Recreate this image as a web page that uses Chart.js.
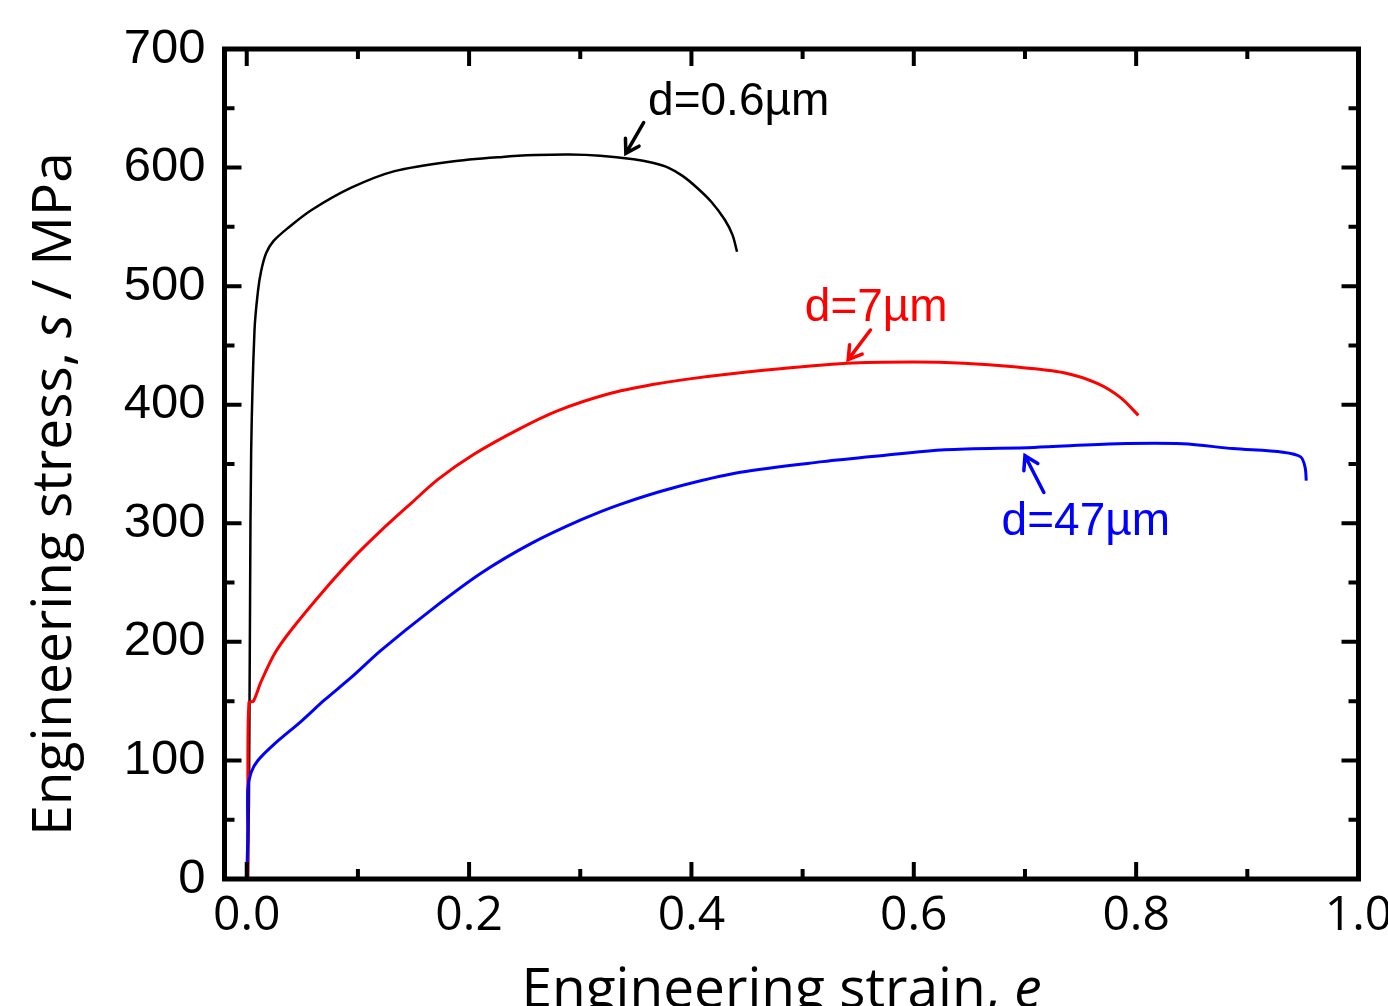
<!DOCTYPE html>
<html>
<head>
<meta charset="utf-8">
<script src="https://cdn.jsdelivr.net/npm/chart.js@4.4.1/dist/chart.umd.min.js"></script>
<style>
  body { margin: 0; background: #fff; }
  #wrap { width: 1388px; height: 1006px; }
</style>
</head>
<body>
<div id="wrap"><canvas id="myChart" width="1388" height="1006"></canvas></div>
<script>
// tick labels
var xTicks = [0.0, 0.2, 0.4, 0.6, 0.8, 1.0];
var yTicks = [0, 100, 200, 300, 400, 500, 600, 700];

// d=0.6um (black)
var strain06 = [0.001, 0.002, 0.003, 0.004, 0.007, 0.010, 0.013, 0.0175, 0.024, 0.037, 0.058, 0.094, 0.133, 0.183, 0.230, 0.260, 0.290, 0.318, 0.348, 0.365, 0.379, 0.392, 0.405, 0.418, 0.430, 0.437, 0.441];
var stress06 = [0, 67, 236, 362, 463, 495, 513, 528, 538, 549, 564, 583, 597, 605, 609, 610.5, 611, 610, 607, 604, 600, 593, 583, 571, 556, 543, 529];

// d=7um (red)
var strain7 = [0.001, 0.001, 0.002, 0.006, 0.0127, 0.025, 0.040, 0.070, 0.095, 0.121, 0.148, 0.172, 0.204, 0.244, 0.280, 0.325, 0.365, 0.400, 0.465, 0.540, 0.600, 0.645, 0.690, 0.735, 0.765, 0.786, 0.802];
var stress7 = [0, 75, 149, 150, 166, 190, 210, 244, 270, 294, 317, 337, 358, 379, 395, 409, 417, 422, 429, 435, 436, 435, 432, 427, 418, 406, 391];

// d=47um (blue)
var strain47 = [0.000, 0.001, 0.001, 0.004, 0.010, 0.025, 0.049, 0.070, 0.094, 0.121, 0.166, 0.211, 0.256, 0.301, 0.336, 0.384, 0.444, 0.518, 0.570, 0.628, 0.708, 0.783, 0.842, 0.887, 0.932, 0.948, 0.952, 0.953];
var stress47 = [0, 40, 76, 90, 100, 114, 133, 151, 170, 193, 227, 258, 283, 303, 316, 330, 343, 352, 357, 362, 364, 367, 367, 363, 360, 356, 347, 336];

function toPoints(xs, ys) {
    var pts = [];
    for (var i = 0; i < xs.length; i++) {
        pts.push({ x: xs[i], y: ys[i] });
    }
    return pts;
}

// labels with arrows, in data units
var notes = [
    { text: "d=0.6\u00b5m", color: "#000000", tx: 0.361, ty: 644, ax: 0.357, ay: 638, bx: 0.341, by: 612 },
    { text: "d=7\u00b5m", color: "#ff0000", tx: 0.502, ty: 471, ax: 0.561, ay: 463, bx: 0.541, by: 438 },
    { text: "d=47\u00b5m", color: "#0000ff", tx: 0.679, ty: 290, ax: 0.717, ay: 326, bx: 0.700, by: 357 }
];

var framePlugin = {
    id: "frame",
    afterDraw: function(chart) {
        var ctx = chart.ctx;
        var a = chart.chartArea;
        var xs = chart.scales.x;
        var ys = chart.scales.y;
        ctx.save();

        // annotations
        ctx.font = '46px "Liberation Sans", Arial, sans-serif';
        ctx.textBaseline = "alphabetic";
        ctx.textAlign = "left";
        notes.forEach(function(n) {
            ctx.fillStyle = n.color;
            ctx.strokeStyle = n.color;
            ctx.fillText(n.text, xs.getPixelForValue(n.tx), ys.getPixelForValue(n.ty));
            var x1 = xs.getPixelForValue(n.ax), y1 = ys.getPixelForValue(n.ay);
            var x2 = xs.getPixelForValue(n.bx), y2 = ys.getPixelForValue(n.by);
            ctx.lineWidth = 3.5;
            ctx.lineCap = "round";
            ctx.beginPath();
            ctx.moveTo(x1, y1);
            ctx.lineTo(x2, y2);
            var ang = Math.atan2(y2 - y1, x2 - x1);
            var hl = 15;
            ctx.moveTo(x2 - hl * Math.cos(ang - 0.55), y2 - hl * Math.sin(ang - 0.55));
            ctx.lineTo(x2, y2);
            ctx.lineTo(x2 - hl * Math.cos(ang + 0.55), y2 - hl * Math.sin(ang + 0.55));
            ctx.stroke();
        });

        // frame
        ctx.strokeStyle = "#000";
        ctx.lineCap = "butt";
        ctx.lineWidth = 5;
        ctx.strokeRect(a.left, a.top, a.right - a.left, a.bottom - a.top);

        // inward ticks on all sides
        ctx.lineWidth = 4;
        var major = 17, minor = 10;
        ctx.beginPath();
        for (var i = 0; i < xTicks.length; i++) {
            var px = xs.getPixelForValue(xTicks[i]);
            ctx.moveTo(px, a.bottom); ctx.lineTo(px, a.bottom - major);
            ctx.moveTo(px, a.top); ctx.lineTo(px, a.top + major);
            if (i < xTicks.length - 1) {
                var mx = xs.getPixelForValue((xTicks[i] + xTicks[i + 1]) / 2);
                ctx.moveTo(mx, a.bottom); ctx.lineTo(mx, a.bottom - minor);
                ctx.moveTo(mx, a.top); ctx.lineTo(mx, a.top + minor);
            }
        }
        for (var j = 0; j < yTicks.length; j++) {
            var py = ys.getPixelForValue(yTicks[j]);
            ctx.moveTo(a.left, py); ctx.lineTo(a.left + major, py);
            ctx.moveTo(a.right, py); ctx.lineTo(a.right - major, py);
            if (j < yTicks.length - 1) {
                var my = ys.getPixelForValue((yTicks[j] + yTicks[j + 1]) / 2);
                ctx.moveTo(a.left, my); ctx.lineTo(a.left + minor, my);
                ctx.moveTo(a.right, my); ctx.lineTo(a.right - minor, my);
            }
        }
        ctx.stroke();

        // axis titles (italic symbols)
        ctx.fillStyle = "#000";
        var norm = '55px "Open Sans", sans-serif';
        var ital = 'italic 55px "Open Sans", sans-serif';
        function drawParts(parts, cx, cy) {
            var w = 0;
            parts.forEach(function(p) { ctx.font = p[1]; w += ctx.measureText(p[0]).width; });
            var x = cx - w / 2;
            parts.forEach(function(p) {
                ctx.font = p[1];
                ctx.fillText(p[0], x, cy);
                x += ctx.measureText(p[0]).width;
            });
        }
        ctx.textAlign = "left";
        ctx.textBaseline = "alphabetic";
        drawParts([["Engineering strain, ", norm], ["e", ital]], (a.left + a.right) / 2 - 10, 1007);

        ctx.save();
        ctx.translate(71, (a.top + a.bottom) / 2 + 30);
        ctx.rotate(-Math.PI / 2);
        drawParts([["Engineering stress, ", norm], ["s", ital], [" / MPa", norm]], 0, 0);
        ctx.restore();

        ctx.restore();
    }
};

function displayGraph() {
    var grapharea = document.getElementById("myChart");
    const data = {
        datasets: [{
            label: "d=47um",
            data: toPoints(strain47, stress47),
            borderColor: "#0000ff",
            borderWidth: 3,
            pointRadius: 0,
            tension: 0.3
        }, {
            label: "d=7um",
            data: toPoints(strain7, stress7),
            borderColor: "#ff0000",
            borderWidth: 3,
            pointRadius: 0,
            tension: 0.3
        }, {
            label: "d=0.6um",
            data: toPoints(strain06, stress06),
            borderColor: "#000000",
            borderWidth: 2.5,
            pointRadius: 0,
            tension: 0.3
        }]
    };
    const config = {
        type: "line",
        data: data,
        options: {
            responsive: false,
            animation: false,
            layout: { padding: { top: 49, right: 29.5, left: 0, bottom: 0 } },
            plugins: { legend: { display: false }, tooltip: { enabled: false } },
            scales: {
                x: {
                    type: "linear",
                    min: -0.02,
                    max: 1.0,
                    grid: { display: false, drawTicks: false },
                    border: { display: false },
                    afterBuildTicks: function(scale) {
                        scale.ticks = xTicks.map(function(v) { return { value: v }; });
                    },
                    afterFit: function(scale) {
                        scale.height = 127;
                        scale.paddingRight = 0;
                        scale.paddingLeft = 0;
                    },
                    ticks: {
                        padding: 9,
                        color: "#000",
                        maxRotation: 0,
                        autoSkip: false,
                        font: { family: "'Open Sans', sans-serif", size: 48 },
                        callback: function(v) { return Number(v).toFixed(1); }
                    }
                },
                y: {
                    type: "linear",
                    min: 0,
                    max: 700,
                    grid: { display: false, drawTicks: false },
                    border: { display: false },
                    afterBuildTicks: function(scale) {
                        scale.ticks = yTicks.map(function(v) { return { value: v }; });
                    },
                    afterFit: function(scale) {
                        scale.width = 224.5;
                        scale.paddingTop = 0;
                        scale.paddingBottom = 0;
                    },
                    ticks: {
                        padding: 19,
                        color: "#000",
                        autoSkip: false,
                        font: { family: "'Liberation Sans', Arial, sans-serif", size: 49 }
                    }
                }
            }
        },
        plugins: [framePlugin]
    };
    const myChart = new Chart(grapharea, config);
}
displayGraph();
</script>
</body>
</html>
